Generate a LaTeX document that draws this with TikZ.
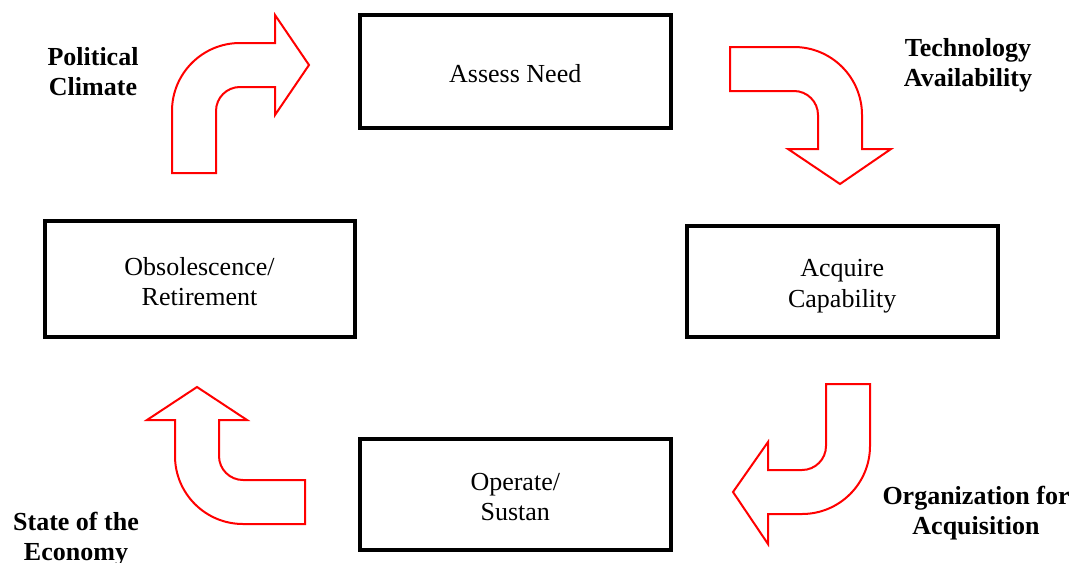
\documentclass[tikz,border=0pt]{standalone}
\usepackage{fontspec}
\setmainfont{Liberation Serif}
\begin{document}
\begin{tikzpicture}[x=1pt,y=-1pt,
  stagebox/.style={draw=black,line width=4pt,inner sep=0pt,align=center,
    font=\fontsize{26}{30.5}\selectfont},
  factor/.style={align=center,inner sep=0pt,font=\fontsize{26}{30}\selectfont\bfseries},
  bendarrow/.style={draw=red,line width=2pt,fill=white,line join=miter}]
\useasboundingbox (0,0) rectangle (1075,562);
% stage boxes
\node[stagebox,minimum width=311.5pt,minimum height=113.5pt] (assess) at (515.25,71.25) {};
\node[stagebox,minimum width=311.5pt,minimum height=111.5pt] (acquire) at (842.25,281.25) {};
\node[stagebox,minimum width=310pt,minimum height=115.5pt] (obsolete) at (199.5,278.75) {};
\node[stagebox,minimum width=311.5pt,minimum height=111pt] (operate) at (515.25,494) {};
\node[stagebox,draw=none] (assesstext) at ([yshift=-2pt]assess.center) {Assess Need};
\node[stagebox,draw=none] (acquiretext) at ([yshift=-5pt]acquire.center) {Acquire\\Capability};
\node[stagebox,draw=none] (obsoletetext) at ([yshift=-3pt]obsolete.center) {Obsolescence/\\Retirement};
\node[stagebox,draw=none] (operatetext) at ([yshift=-3pt]operate.center) {Operate/\\Sustan};
% factor labels
\node[factor] (political) at (93,72) {Political\\Climate};
\node[factor] (technology) at (968,65) {Technology\\Availability};
\node[factor] (organization) at (976,513) {Organization for\\Acquisition};
\node[factor] (economy) at (76,539) {State of the\\Economy};
% bent block arrows
\draw[bendarrow] (172,173) -- (172,111) arc[start angle=180,end angle=270,radius=68]
  -- (275,43) -- (275,15) -- (309,65) -- (275,115) -- (275,87) -- (240,87)
  arc[start angle=270,end angle=180,radius=24] -- (216,173) -- cycle;
\draw[bendarrow] (730,47) -- (794,47) arc[start angle=270,end angle=360,radius=68]
  -- (862,149) -- (891,149) -- (840,184) -- (788,149) -- (818,149) -- (818,115)
  arc[start angle=0,end angle=-90,radius=24] -- (730,91) -- cycle;
\draw[bendarrow] (826,384) -- (870,384) -- (870,446) arc[start angle=0,end angle=90,radius=68]
  -- (768,514) -- (768,544) -- (733,492) -- (768,442) -- (768,470) -- (802,470)
  arc[start angle=90,end angle=0,radius=24] -- cycle;
\draw[bendarrow] (305,524) -- (243,524) arc[start angle=90,end angle=180,radius=68]
  -- (175,420) -- (147,420) -- (197,387) -- (247,420) -- (219,420) -- (219,456)
  arc[start angle=180,end angle=90,radius=24] -- (305,480) -- cycle;
\end{tikzpicture}
\end{document}
